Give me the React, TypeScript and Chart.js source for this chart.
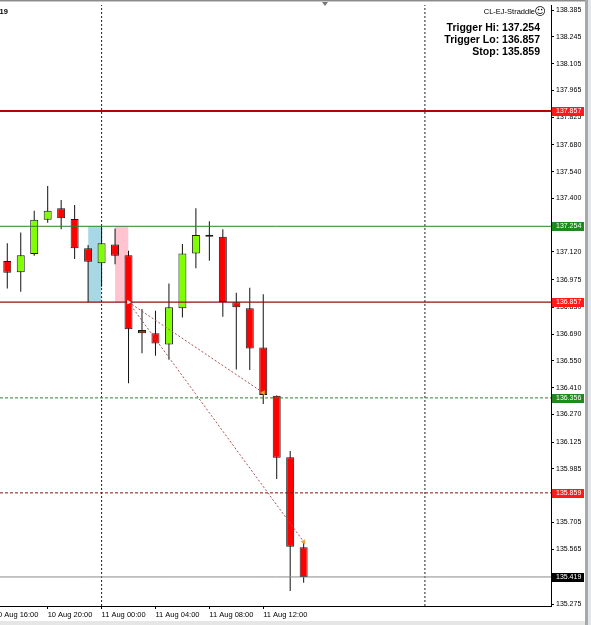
import React, { useEffect, useRef } from 'react';
import { Chart, registerables } from 'chart.js';

Chart.register(...registerables);

// ---- data ----
const candleTimes = [
  '10 Aug 17:00', '10 Aug 18:00', '10 Aug 19:00', '10 Aug 20:00', '10 Aug 21:00', '10 Aug 22:00', '10 Aug 23:00',
  '11 Aug 00:00', '11 Aug 01:00', '11 Aug 02:00', '11 Aug 03:00', '11 Aug 04:00', '11 Aug 05:00', '11 Aug 06:00',
  '11 Aug 07:00', '11 Aug 08:00', '11 Aug 09:00', '11 Aug 10:00', '11 Aug 11:00', '11 Aug 12:00', '11 Aug 13:00',
  '11 Aug 14:00', '11 Aug 15:00',
];
const opens = [137.072, 137.013, 137.109, 137.288, 137.348, 137.292, 137.139, 137.060, 137.159, 137.102, 136.711, 136.694, 136.636, 136.825, 137.112, 137.210, 137.199, 136.856, 136.825, 136.620, 136.367, 136.045, 135.574];
const highs = [137.165, 137.222, 137.335, 137.465, 137.391, 137.365, 137.156, 137.254, 137.243, 137.126, 136.821, 136.812, 136.955, 137.161, 137.348, 137.281, 137.238, 136.906, 136.932, 136.899, 136.368, 136.078, 135.603];
const lows = [136.929, 136.911, 137.100, 137.272, 137.238, 137.083, 136.857, 136.938, 137.056, 136.432, 136.589, 136.577, 136.556, 136.777, 137.034, 137.074, 136.781, 136.505, 136.502, 136.324, 135.931, 135.345, 135.389];
const closes = [137.011, 137.102, 137.288, 137.335, 137.296, 137.139, 137.068, 137.165, 137.100, 136.715, 136.694, 136.641, 136.830, 137.112, 137.208, 137.199, 136.858, 136.830, 136.615, 136.371, 136.043, 135.577, 135.419];

const yTicks = [138.385, 138.245, 138.105, 137.965, 137.825, 137.680, 137.540, 137.400, 137.120, 136.975, 136.830, 136.690, 136.550, 136.410, 136.270, 136.125, 135.985, 135.705, 135.565, 135.275];
const xTickIdx = [-1, 3, 7, 11, 15, 19];
const xTickLabels = ['10 Aug 16:00', '10 Aug 20:00', '11 Aug 00:00', '11 Aug 04:00', '11 Aug 08:00', '11 Aug 12:00'];

const levelPrices = [137.857, 137.254, 136.857, 136.356, 135.859, 135.419];
const daySeparators = [7, 31];
const rangeHi = 137.254;
const rangeLo = 136.857;
const rangeStartIdx = [6, 8];
const rangeEndIdx = [7, 9];
const tradeOpenIdx = 9;
const tradeOpenPrice = 136.857;
const tradeCloseIdx = [19, 22];
const tradeClosePrice = [136.383, 135.603];

const eaName = 'CL-EJ-Straddle';
const infoLines = ['Trigger Hi: 137.254', 'Trigger Lo: 136.857', 'Stop: 135.859'];
const symbolTail = '19';

// ---- styles ----
const X_MIN = -0.54;
const X_MAX = 40.36;
const Y_MIN = 135.267;
const Y_MAX = 138.412;
const BULL = '#80ff00';
const BEAR = '#ff0000';
const levelStyles = [
  { color: '#b80000', width: 2, dash: [] as number[], label: '#ff1a1a' },
  { color: '#2f7f2f', width: 1, dash: [] as number[], label: '#1f8a1f' },
  { color: '#8b1010', width: 1.3, dash: [] as number[], label: '#ff1a1a' },
  { color: '#2f7f2f', width: 1, dash: [3, 2], label: '#1f8a1f' },
  { color: '#8b1010', width: 1, dash: [3, 2], label: '#ff1a1a' },
  { color: '#8a8a8a', width: 1, dash: [] as number[], label: '#000000' },
];
const rangeColors = ['#a8d8e6', '#ffc4d0'];
const FONT = 'Liberation Sans';

const overlayPlugin = {
  id: 'overlay',
  afterDraw(chart: any) {
    const ctx = chart.ctx as CanvasRenderingContext2D;
    const y = chart.scales.y;
    const area = chart.chartArea;
    ctx.save();
    // price boxes on the right axis
    ctx.font = `7px "${FONT}"`;
    ctx.textBaseline = 'middle';
    ctx.textAlign = 'left';
    levelPrices.forEach((p, i) => {
      const py = Math.round(y.getPixelForValue(p));
      ctx.fillStyle = levelStyles[i].label;
      ctx.fillRect(y.left + 1, py - 4, 32, 9);
      ctx.fillStyle = '#ffffff';
      ctx.fillText(p.toFixed(3), y.left + 5, py + 0.5);
    });
    // EA name + smiley
    ctx.fillStyle = '#000';
    ctx.textBaseline = 'alphabetic';
    ctx.textAlign = 'right';
    ctx.font = `7.5px "${FONT}"`;
    ctx.fillText(eaName, area.right - 16, area.top + 9);
    ctx.textAlign = 'center';
    ctx.textBaseline = 'alphabetic';
    ctx.font = '11px "DejaVu Sans"';
    ctx.fillText('\u263A', area.right - 11, area.top + 10);
    // info lines
    ctx.textBaseline = 'alphabetic';
    ctx.textAlign = 'right';
    ctx.font = `bold 10.5px "${FONT}"`;
    infoLines.forEach((t, i) => {
      ctx.fillText(t, area.right - 11, area.top + 26 + i * 12);
    });
    // symbol tail at top-left
    ctx.textAlign = 'left';
    ctx.font = `bold 7.5px "${FONT}"`;
    ctx.fillText(symbolTail, area.left - 0.5, area.top + 9);
    ctx.restore();
  },
};

export default function App() {
  const ref = useRef<HTMLCanvasElement>(null);

  useEffect(() => {
    document.body.style.margin = '0';
    const datasets: any[] = [];

    // candle bodies
    datasets.push({
      type: 'bar',
      data: candleTimes.map((_, i) => ({ x: i, y: [opens[i], closes[i]] })),
      backgroundColor: candleTimes.map((_, i) => (closes[i] >= opens[i] ? BULL : BEAR)),
      borderColor: '#1a1a1a',
      borderWidth: 1,
      borderSkipped: false,
      barThickness: 8,
      grouped: false,
      inflateAmount: 0,
      order: 2,
    });
    // wicks
    datasets.push({
      type: 'bar',
      data: candleTimes.map((_, i) => ({ x: i, y: [lows[i], highs[i]] })),
      backgroundColor: '#111111',
      borderWidth: 0,
      barThickness: 1,
      grouped: false,
      inflateAmount: 0,
      order: 3,
    });
    // range boxes
    rangeStartIdx.forEach((s, i) => {
      datasets.push({
        type: 'line',
        data: [{ x: s, y: rangeHi }, { x: rangeEndIdx[i], y: rangeHi }],
        borderWidth: 0,
        pointRadius: 0,
        backgroundColor: rangeColors[i],
        fill: { value: rangeLo },
        order: 6,
      });
    });
    // day separators
    daySeparators.forEach((d) => {
      datasets.push({
        type: 'line',
        data: [{ x: d, y: Y_MIN }, { x: d, y: Y_MAX }],
        borderColor: '#222222',
        borderWidth: 1,
        borderDash: [2, 2],
        pointRadius: 0,
        fill: false,
        order: 5,
      });
    });
    // horizontal levels
    levelPrices.forEach((p, i) => {
      datasets.push({
        type: 'line',
        data: [{ x: X_MIN, y: p }, { x: X_MAX, y: p }],
        borderColor: levelStyles[i].color,
        borderWidth: levelStyles[i].width,
        borderDash: levelStyles[i].dash,
        pointRadius: 0,
        fill: false,
        order: 1,
      });
    });
    // trade lines
    tradeCloseIdx.forEach((c, i) => {
      datasets.push({
        type: 'line',
        data: [{ x: tradeOpenIdx, y: tradeOpenPrice }, { x: c, y: tradeClosePrice[i] }],
        borderColor: '#a85050',
        borderWidth: 1,
        borderDash: [2, 2],
        pointStyle: 'triangle',
        pointRadius: [2.5, 3],
        pointRotation: [90, -90],
        pointBackgroundColor: ['#fbe4e4', '#f0a030'],
        pointBorderWidth: 0,
        fill: false,
        order: 0,
      });
    });

    const chart = new Chart(ref.current!, {
      type: 'bar',
      data: { datasets },
      options: {
        animation: false,
        responsive: false,
        devicePixelRatio: 1,
        layout: { autoPadding: false, padding: { top: 5, left: 0, right: 0, bottom: 0 } },
        plugins: { legend: { display: false }, tooltip: { enabled: false } },
        events: [],
        scales: {
          x: {
            type: 'linear',
            min: X_MIN,
            max: X_MAX,
            offset: false,
            afterBuildTicks: (s: any) => {
              s.ticks = xTickIdx.map((v) => ({ value: v }));
            },
            afterFit: (s: any) => {
              s.height = 15;
              s.paddingLeft = 0;
              s.paddingRight = 0;
            },
            ticks: {
              autoSkip: false,
              maxRotation: 0,
              minRotation: 0,
              align: 'start',
              padding: 1,
              color: '#000',
              font: { family: FONT, size: 7.5 },
              callback: (_v: any, i: number) => xTickLabels[i],
            },
            grid: { drawOnChartArea: false, drawTicks: true, tickLength: 3, tickColor: '#000', offset: false },
            border: { display: true, color: '#000', width: 1 },
          },
          y: {
            type: 'linear',
            position: 'right',
            min: Y_MIN,
            max: Y_MAX,
            afterBuildTicks: (s: any) => {
              s.ticks = yTicks.map((v) => ({ value: v }));
            },
            afterFit: (s: any) => {
              s.width = 34;
              s.paddingTop = 0;
              s.paddingBottom = 0;
            },
            ticks: {
              autoSkip: false,
              padding: 2,
              color: '#000',
              font: { family: FONT, size: 7 },
              callback: (v: any) => Number(v).toFixed(3),
            },
            grid: { drawOnChartArea: false, drawTicks: true, tickLength: 3, tickColor: '#000' },
            border: { display: true, color: '#000', width: 1 },
          },
        },
      } as any,
      plugins: [overlayPlugin],
    });
    return () => chart.destroy();
  }, []);

  return (
    <div style={{ position: 'fixed', left: 0, top: 0, width: 591, height: 625, background: '#ffffff', overflow: 'hidden' }}>
      <canvas ref={ref} width={585} height={621} style={{ position: 'absolute', left: 0, top: 0, width: 585, height: 621 }} />
      <div style={{ position: 'absolute', left: 0, top: 0, width: 591, height: 1, background: '#8c8c8c' }} />
      <div style={{ position: 'absolute', left: 0, top: 1, width: 591, height: 1, background: '#c8c8c8' }} />
      <div style={{ position: 'absolute', left: 322, top: 2, width: 0, height: 0, borderLeft: '3px solid transparent', borderRight: '3px solid transparent', borderTop: '4px solid #777' }} />
      <div style={{ position: 'absolute', left: 585, top: 0, width: 3, height: 625, background: '#a8a8a8' }} />
      <div style={{ position: 'absolute', left: 588, top: 0, width: 3, height: 625, background: '#e2e6ea' }} />
      <div style={{ position: 'absolute', left: 0, top: 621, width: 585, height: 4, background: '#e6e6e6' }} />
    </div>
  );
}
